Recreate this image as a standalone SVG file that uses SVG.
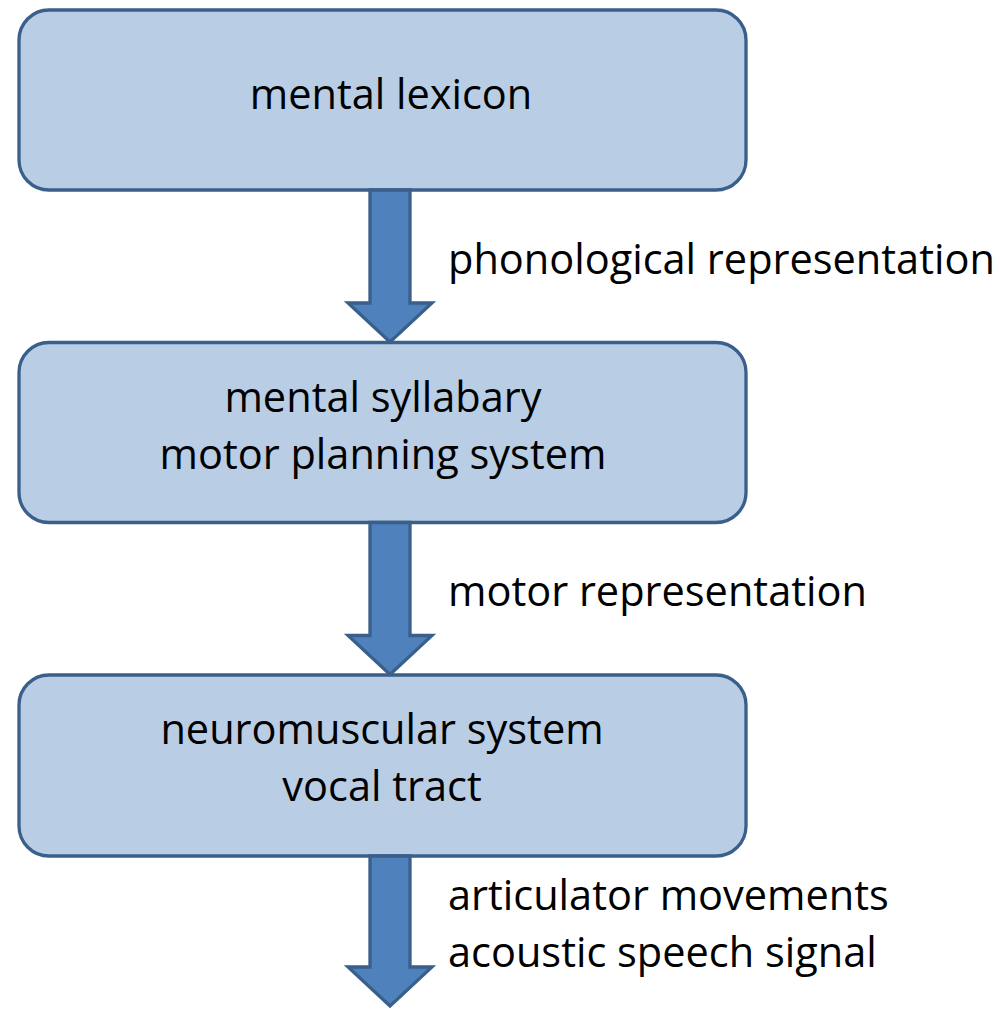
<svg xmlns="http://www.w3.org/2000/svg" width="1000" height="1009" viewBox="0 0 1000 1009">
<style>
.box{fill:#b9cde5;stroke:#3a5f8b;stroke-width:3.3}
.arr{fill:#4f81bd;stroke:#3a5f8b;stroke-width:3.3;stroke-linejoin:miter}
text{font-family:"Open Sans","Noto Sans","Liberation Sans",sans-serif;font-size:41.5px;fill:#000}
.c{text-anchor:middle}
</style>
<rect width="1000" height="1009" fill="#fff"/>
<g id="node-lexicon">
<rect class="box" x="19" y="10" width="727" height="180" rx="30"/>
<text class="c" x="391" y="109">mental lexicon</text>
</g>
<g id="node-syllabary">
<rect class="box" x="19" y="342.5" width="727" height="180" rx="30"/>
<text class="c" x="383" y="412">mental syllabary</text>
<text class="c" x="383" y="469">motor planning system</text>
</g>
<g id="node-neuromuscular">
<rect class="box" x="19" y="675" width="727" height="181" rx="30"/>
<text class="c" x="382" y="744">neuromuscular system</text>
<text class="c" x="382" y="801">vocal tract</text>
</g>
<g id="connectors">
<path class="arr" d="M370,190 L410,190 L410,303 L432,303 L390,342 L348,303 L370,303 Z"/>
<path class="arr" d="M370,522.5 L410,522.5 L410,635.5 L432,635.5 L390,674.5 L348,635.5 L370,635.5 Z"/>
<path class="arr" d="M370,856 L410,856 L410,967 L432,967 L390,1006 L348,967 L370,967 Z"/>
<text x="448" y="274">phonological representation</text>
<text x="448" y="606">motor representation</text>
<text x="448" y="910">articulator movements</text>
<text x="448" y="967">acoustic speech signal</text>
</g>
</svg>
